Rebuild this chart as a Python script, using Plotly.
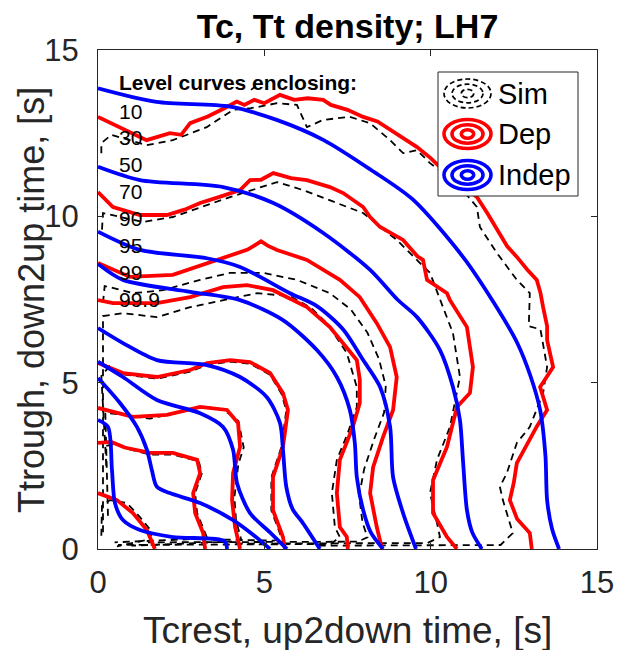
import plotly.graph_objects as go

levels = ["10", "30", "50", "70", "90", "95", "99", "99.9"]
legend_names = ["Sim", "Dep", "Indep"]
x_ticks = [0, 5, 10, 15]
y_ticks = [0, 5, 10, 15]

# level curves, outermost (99.9) first, points as (Tcrest, Ttrough) in seconds
sim_999 = [(0.1, 11.9), (0.1, 12.2), (0.4, 12.45), (0.9, 12.3), (1.46, 12.14), (2.25, 12.29),
           (3.27, 12.68), (4.06, 13.2), (4.6, 13.25), (5.38, 13.4), (5.98, 13.35), (6.28, 12.68), (6.77, 12.9),
           (7.57, 12.99), (8.18, 12.8), (8.78, 12.29), (9.17, 11.9), (9.59, 11.99), (9.98, 11.6), (10.79, 11.0),
           (11.39, 10.28), (11.48, 9.68), (11.99, 8.9), (12.59, 8.09), (12.98, 7.69), (12.95, 6.7), (13.3, 6.6),
           (13.5, 5.47), (13.38, 4.69), (12.98, 3.67), (12.59, 3.19), (12.29, 2.28), (12.08, 1.87), (12.17, 1.47),
           (12.47, 0.48), (12.1, 0.12), (6.5, 0.1)]
sim_99 = [(0.12, 9.6), (0.15, 10.1), (1.35, 9.83), (2.25, 9.98), (3.97, 10.58), (5.38, 11.03), (6.16, 10.79),
          (6.97, 10.49), (7.97, 10.1), (8.98, 9.29), (9.98, 8.3), (10.37, 7.27), (10.67, 6.49), (10.88, 5.17),
          (10.79, 4.69), (10.58, 3.67), (10.19, 2.68), (9.98, 1.68), (10.19, 0.78), (10.28, 0.36), (9.9, 0.18),
          (4.0, 0.16)]
sim_95 = [(0.15, 7.4), (0.2, 7.9), (0.36, 7.87), (1.05, 7.69), (1.95, 7.78), (3.07, 8.09), (3.97, 8.3),
          (4.96, 8.3), (5.98, 8.09), (6.97, 7.69), (7.6, 7.2), (8.1, 6.5), (8.45, 5.7), (8.65, 4.9), (8.6, 4.1),
          (8.3, 3.3), (8.0, 2.4), (7.85, 1.6), (7.95, 0.8), (8.1, 0.35), (7.8, 0.22), (1.5, 0.2)]
sim_90 = [(0.15, 0.5), (0.15, 7.0), (0.75, 7.09), (1.77, 6.97), (2.77, 7.27), (3.76, 7.48), (4.78, 7.69),
          (5.77, 7.6), (6.4, 7.25), (6.88, 6.79), (7.48, 5.89), (7.78, 4.87), (7.78, 4.27), (7.51, 3.49),
          (7.18, 2.68), (7.03, 1.68), (7.12, 0.66), (7.27, 0.36), (7.0, 0.15), (0.6, 0.12)]
sim_70 = [(0.25, 2.5), (0.1, 5.2), (0.35, 5.5), (0.75, 5.25), (1.77, 5.12), (2.77, 5.33), (3.28, 5.54),
          (3.97, 5.63), (4.57, 5.57), (5.17, 5.24), (5.52, 4.66), (5.66, 4.16), (5.51, 3.06), (5.21, 2.15),
          (5.21, 1.16), (5.5, 0.38), (5.3, 0.25), (3.0, 0.3)]
sim_50 = [(0.3, 1.0), (0.22, 4.1), (0.75, 4.03), (1.56, 3.92), (2.55, 4.13), (3.16, 4.28), (3.76, 4.2),
          (4.22, 3.85), (4.38, 3.05), (4.22, 2.56), (4.1, 1.55), (4.15, 0.85), (4.3, 0.3), (4.0, 0.22), (1.0, 0.1)]
sim_30 = [(0.25, 3.1), (0.57, 3.17), (0.87, 3.02), (1.56, 2.84), (2.25, 2.84), (2.67, 2.72), (3.03, 2.64),
          (3.12, 2.27), (2.92, 1.68), (2.98, 1.08), (3.2, 0.5), (3.27, 0.36), (2.9, 0.3), (0.5, 0.2)]
sim_10 = [(0.1, 0.4), (0.12, 1.3), (0.36, 1.47), (0.87, 1.38), (1.26, 0.96), (1.65, 0.48), (1.47, 0.27),
          (0.57, 0.08)]
sim_dot = [(4.6, 13.8), (4.72, 13.9)]

dep_999 = [(0, 12.99), (0.76, 12.64), (1.46, 12.29), (2.16, 12.5), (2.5, 12.45), (2.77, 12.8), (3.3, 13.0),
           (3.8, 13.25), (4.17, 13.45), (4.4, 13.35), (4.7, 13.5), (5.0, 13.4), (5.47, 13.65), (5.9, 13.5),
           (6.3, 13.55), (6.77, 13.5), (7.0, 13.35), (7.5, 13.2), (7.97, 12.99), (8.4, 12.85), (8.78, 12.6),
           (9.2, 12.35), (9.59, 12.08), (10.0, 11.75), (10.28, 11.48), (10.8, 11.05), (11.39, 10.58),
           (11.7, 10.1), (11.99, 9.59), (12.3, 9.1), (12.59, 8.78), (12.9, 8.4), (13.19, 8.09), (13.3, 7.7),
           (13.38, 7.27), (13.5, 6.7), (13.5, 6.28), (13.68, 5.47), (13.29, 4.87), (13.5, 4.18), (13.2, 3.7),
           (12.98, 3.28), (12.59, 2.58), (12.5, 2.0), (12.38, 1.47), (12.6, 0.9), (12.98, 0.48), (13.04, 0)]
dep_99 = [(0, 10.73), (0.45, 10.28), (1.26, 10.04), (2.07, 10.04), (2.6, 10.2), (3.07, 10.4), (3.7, 10.6),
          (4.27, 10.79), (4.57, 11.09), (4.9, 11.1), (5.27, 11.3), (5.8, 11.15), (6.28, 11.09), (6.97, 10.88),
          (7.37, 10.7), (7.97, 10.28), (8.18, 9.98), (8.48, 9.68), (9.17, 9.29), (9.6, 8.8), (9.77, 8.69),
          (9.89, 8.09), (10.49, 7.69), (10.58, 7.48), (11.09, 6.67), (11.27, 5.47), (11.18, 4.69), (10.79, 4.27),
          (10.49, 3.07), (10.07, 2.07), (10.07, 1.08), (10.49, 0.36), (10.79, 0)]
dep_95 = [(0, 8.6), (0.96, 8.18), (2.25, 8.24), (3.58, 8.69), (4.5, 9.0), (4.9, 9.25), (5.1, 9.12),
          (5.38, 8.99), (6.28, 8.69), (7.27, 8.09), (7.87, 7.57), (8.38, 6.79), (8.78, 6.07), (8.98, 5.17),
          (8.87, 4.18), (8.57, 3.37), (8.27, 2.46), (8.18, 1.68), (8.38, 0.66), (8.54, 0)]
dep_90 = [(0, 7.48), (0.45, 7.39), (1.77, 7.39), (2.77, 7.57), (3.76, 7.87), (4.48, 7.93), (5.26, 7.78),
          (6.28, 7.27), (6.97, 6.67), (7.37, 6.19), (7.78, 5.68), (7.87, 5.08), (7.87, 4.39), (7.66, 3.67),
          (7.48, 3.19), (7.27, 2.68), (7.18, 1.68), (7.27, 0.66), (7.48, 0.36), (7.51, 0)]
dep_70 = [(0, 5.59), (0.75, 5.29), (1.77, 5.17), (2.77, 5.38), (3.28, 5.59), (3.97, 5.68), (4.57, 5.62),
          (5.17, 5.29), (5.56, 4.69), (5.71, 4.18), (5.56, 3.07), (5.26, 2.16), (5.26, 1.17), (5.56, 0.36), (5.62, 0)]
dep_50 = [(0, 4.24), (1.05, 3.97), (2.07, 4.03), (3.07, 4.27), (3.88, 4.18), (4.21, 3.79), (4.27, 3.07),
          (4.06, 2.28), (4.03, 1.47), (4.12, 0.66), (4.27, 0)]
dep_30 = [(0, 3.19), (0.4, 3.22), (0.8, 3.05), (1.56, 2.89), (2.25, 2.89), (2.67, 2.77), (2.98, 2.68),
          (3.07, 2.28), (2.86, 1.68), (2.92, 1.08), (3.16, 0.48), (3.22, 0)]
dep_10 = [(0, 1.68), (0.57, 1.47), (1.05, 1.08), (1.47, 0.57), (1.71, 0)]

indep_999 = [(0, 13.85), (1.76, 13.44), (3.97, 13.3), (5.37, 12.9), (6.77, 12.3), (8.2, 11.4), (9.47, 10.5),
             (10.97, 8.78), (11.9, 7.4), (12.6, 6.2), (13.0, 5.2), (13.29, 4.18), (13.45, 2.8), (13.5, 1.47),
             (13.65, 0.6), (13.86, 0)]
indep_99 = [(0, 11.49), (1.26, 11.09), (3.76, 10.88), (5.27, 10.4), (6.77, 9.5), (8.18, 8.39), (9.0, 7.5),
            (9.59, 6.97), (10.28, 5.98), (10.67, 4.87), (10.88, 3.88), (10.97, 2.68), (11.09, 1.17),
            (11.25, 0.5), (11.54, 0)]
indep_95 = [(0, 9.54), (1.26, 8.99), (3.27, 8.74), (4.27, 8.48), (5.77, 7.69), (6.58, 7.3), (7.37, 6.6),
            (7.97, 5.68), (8.48, 4.87), (8.78, 3.67), (8.87, 2.16), (9.17, 1.08), (9.56, 0)]
indep_90 = [(0, 8.57), (0.75, 8.09), (2.77, 7.73), (4.27, 7.48), (5.56, 6.88), (6.58, 5.98), (7.18, 5.17),
            (7.57, 4.18), (7.72, 3.19), (7.78, 2.16), (7.97, 1.17), (8.2, 0.5), (8.57, 0)]
indep_70 = [(0, 6.64), (0.75, 6.19), (1.77, 5.68), (3.27, 5.53), (4.27, 5.17), (5.07, 4.57), (5.47, 3.79),
            (5.56, 2.98), (5.66, 1.87), (5.85, 1.2), (6.16, 0.78), (6.67, 0)]
indep_50 = [(0, 5.63), (0.75, 5.17), (1.77, 4.48), (3.07, 4.08), (3.76, 3.67), (4.06, 2.98), (4.18, 1.98),
            (4.57, 1.08), (5.17, 0.5), (5.68, 0)]
indep_30 = [(0, 5.14), (0.66, 4.39), (1.17, 3.67), (1.47, 2.98), (1.62, 2.37), (1.77, 1.87), (2.16, 1.68),
            (3.07, 1.38), (4.06, 0.87), (4.7, 0.4), (5.17, 0)]
indep_10 = [(0, 3.88), (0.3, 3.67), (0.42, 2.37), (0.51, 1.38), (0.75, 0.87), (1.26, 0.57), (2.25, 0.36),
            (3.8, 0.24), (3.88, 0)]

sim_curves = [sim_999, sim_99, sim_95, sim_90, sim_70, sim_50, sim_30, sim_10, sim_dot]
dep_curves = [dep_999, dep_99, dep_95, dep_90, dep_70, dep_50, dep_30, dep_10]
indep_curves = [indep_999, indep_99, indep_95, indep_90, indep_70, indep_50, indep_30, indep_10]

FONT = "Liberation Sans, Arial, sans-serif"
OFF = 8  # page body margin
W, H = 625 - OFF, 650 - OFF
L, R, T, B = 98, 597, 50, 549  # plot box in reference pixels


def px(x):
    return (x - L) / (R - L)


def py(y):
    return (B - y) / (B - T)


fig = go.Figure()


def add_curves(curves, color, width, dash=None, shape="linear"):
    for c in curves:
        fig.add_trace(go.Scatter(
            x=[p[0] for p in c], y=[p[1] for p in c], mode="lines",
            line=dict(color=color, width=width, dash=dash, shape=shape, smoothing=0.8),
            showlegend=False, hoverinfo="skip"))


add_curves(sim_curves, "black", 1.8, "7px,5px")
add_curves(dep_curves, "#ff0000", 3.8)
add_curves(indep_curves, "#0000ff", 3.8, shape="spline")

axis = dict(range=[0, 15], showgrid=False, zeroline=False, showline=True, linecolor="#262626",
            linewidth=1, mirror="ticks", ticks="inside", ticklen=6, tickcolor="#262626",
            tickfont=dict(family=FONT, size=31, color="#262626"))
fig.update_xaxes(tickvals=x_ticks, ticklabelstandoff=6, **axis)
fig.update_yaxes(tickvals=y_ticks, ticklabelstandoff=12, **axis)

ann = [
    dict(text="Tcrest, up2down time, [s]", x=0.5, y=py(630), xref="paper", yref="paper",
         showarrow=False, font=dict(family=FONT, size=37, color="#262626"), yanchor="middle"),
    dict(text="Ttrough, down2up time, [s]", x=px(31), y=py(300), xref="paper", yref="paper",
         showarrow=False, textangle=-90, font=dict(family=FONT, size=36, color="#262626"), xanchor="center"),
    dict(text="<b>Level curves enclosing:</b>", x=px(117), y=py(83), xref="paper", yref="paper",
         showarrow=False, xanchor="left", yanchor="middle", font=dict(family=FONT, size=21, color="black")),
]
for i, lv in enumerate(levels):
    ann.append(dict(text=lv, x=px(117), y=py(111 + 26.9 * i), xref="paper", yref="paper", showarrow=False,
                    xanchor="left", yanchor="middle", font=dict(family=FONT, size=21, color="black")))

# custom legend with concentric ellipse icons
shapes = [dict(type="rect", xref="paper", yref="paper", x0=px(438), x1=px(578), y0=py(196), y1=py(72),
               line=dict(color="#262626", width=1), fillcolor="white", layer="above")]
icon_styles = [("black", 1.7, "5px,3px"), ("#ff0000", 3.6, None), ("#0000ff", 3.6, None)]
icon_rows = [93.5, 134, 175]
rings = [(23.5, 14.5), (15.5, 9.3), (6.2, 4.2)]
for name, (col, wd, ds), cy in zip(legend_names, icon_styles, icon_rows):
    for hw, hh in rings:
        shapes.append(dict(type="circle", xref="paper", yref="paper", x0=px(467.5 - hw), x1=px(467.5 + hw),
                           y0=py(cy + hh), y1=py(cy - hh), line=dict(color=col, width=wd, dash=ds),
                           layer="above"))
    ann.append(dict(text=name, x=px(496), y=py(cy), xref="paper", yref="paper", showarrow=False,
                    xanchor="left", yanchor="middle", font=dict(family=FONT, size=29, color="black")))

fig.update_layout(
    width=W, height=H, margin=dict(l=L - OFF, r=625 - R, t=T - OFF, b=650 - B),
    plot_bgcolor="white", paper_bgcolor="white",
    title=dict(text="<b>Tc, Tt density; LH7</b>", x=((L + R) / 2 - OFF) / W, xanchor="center",
               y=1 - (26 - OFF) / H, yanchor="middle", font=dict(family=FONT, size=34, color="black")),
    annotations=ann, shapes=shapes,
)

fig.write_html("out.html")
